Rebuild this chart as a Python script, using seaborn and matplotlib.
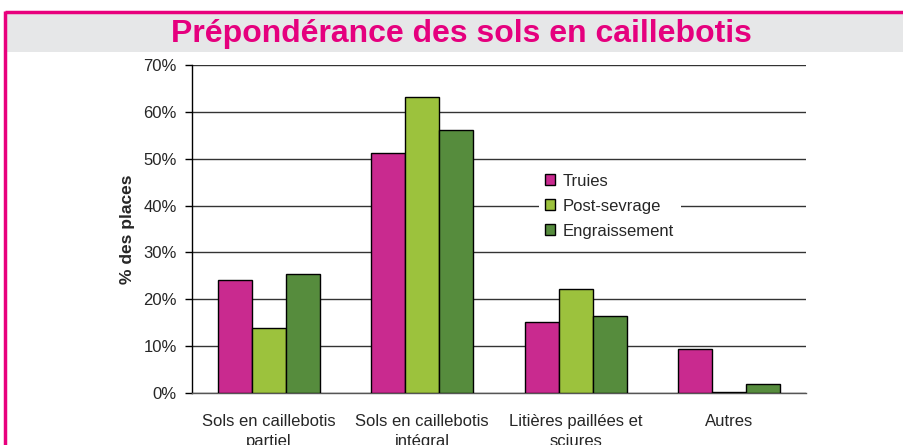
import seaborn as sns
import pandas as pd
import matplotlib.pyplot as plt
from matplotlib.patches import Rectangle
from matplotlib.lines import Line2D

# Data (% des places)
categories = ['Sols en caillebotis\npartiel', 'Sols en caillebotis\nintégral',
              'Litières paillées et\nsciures', 'Autres']
series = ['Truies', 'Post-sevrage', 'Engraissement']
truies = [24.1, 51.2, 15.2, 9.3]
post_sevrage = [13.8, 63.2, 22.3, 0.3]
engraissement = [25.3, 56.1, 16.5, 1.9]
yticks = [0, 10, 20, 30, 40, 50, 60, 70]

colors = ['#C92A8F', '#9CC23D', '#568C3D']

df = pd.DataFrame({
    'Categorie': categories * 3,
    'Valeur': truies + post_sevrage + engraissement,
    'Serie': [s for s in series for _ in categories],
})

sns.set_style('white')
plt.rcParams['font.family'] = ['Liberation Sans', 'DejaVu Sans']

fig = plt.figure(figsize=(9.04, 4.45), dpi=100)

# frame: title band and pink border
fig.patches.append(Rectangle((6 / 904, 1 - 52 / 445), 1, 39 / 445, transform=fig.transFigure,
                             facecolor='#E6E7E8', edgecolor='none', zorder=0))
fig.add_artist(Line2D([5 / 904, 1], [1 - 11.5 / 445] * 2, color='#E8007D', lw=2.5,
                      solid_capstyle='butt'))
fig.add_artist(Line2D([5 / 904] * 2, [0, 1 - 10.5 / 445], color='#E8007D', lw=2.5,
                      solid_capstyle='butt'))
fig.text(461 / 904, 1 - 42 / 445, 'Prépondérance des sols en caillebotis',
         ha='center', va='baseline', fontsize=23, fontweight='bold', color='#E5007E')

ax = fig.add_axes([192 / 904, 1 - 393 / 445, 614 / 904, 328 / 445])
sns.barplot(data=df, x='Categorie', y='Valeur', hue='Serie', palette=colors, saturation=1,
            width=0.665, edgecolor='black', linewidth=1, ax=ax, zorder=3)

ax.set_ylim(0, 70)
ax.set_xlim(-0.5, 3.5)
ax.set_yticks(yticks)
ax.set_yticklabels([f'{v}%' for v in yticks], fontsize=12)
ax.set_xticks(range(len(categories)))
ax.set_xticklabels(categories, fontsize=12, linespacing=1.4)
ax.set_xticks([-0.5, 0.5, 1.5, 2.5, 3.5], minor=True)
ax.tick_params(axis='x', which='major', length=0, pad=15)
ax.tick_params(axis='x', which='minor', length=5, width=1, color='#555555', direction='out')
ax.tick_params(axis='y', length=5, width=1, color='black', direction='out', pad=6, left=True)
ax.yaxis.grid(True, color='#333333', lw=1, zorder=0)
ax.set_axisbelow(True)
ax.set_xlabel('')
ax.set_ylabel('% des places', fontsize=12.5, fontweight='bold')
ax.yaxis.set_label_coords(-0.093, 0.5)
for s in ['top', 'right']:
    ax.spines[s].set_visible(False)
ax.spines['left'].set_color('black')
ax.spines['bottom'].set_color('#555555')
ax.spines['left'].set_linewidth(1)
ax.spines['bottom'].set_linewidth(1)

leg = ax.legend(loc='center left', bbox_to_anchor=(0.551, 0.57), fontsize=12, frameon=True,
                facecolor='white', edgecolor='none', framealpha=1, fancybox=False,
                handlelength=0.6, handleheight=0.6, handletextpad=0.45, labelspacing=0.6,
                borderpad=0.4)
leg.set_zorder(5)
for h in leg.legend_handles:
    h.set_edgecolor('black')
    h.set_linewidth(1)

fig.savefig('out.png', dpi=100)
